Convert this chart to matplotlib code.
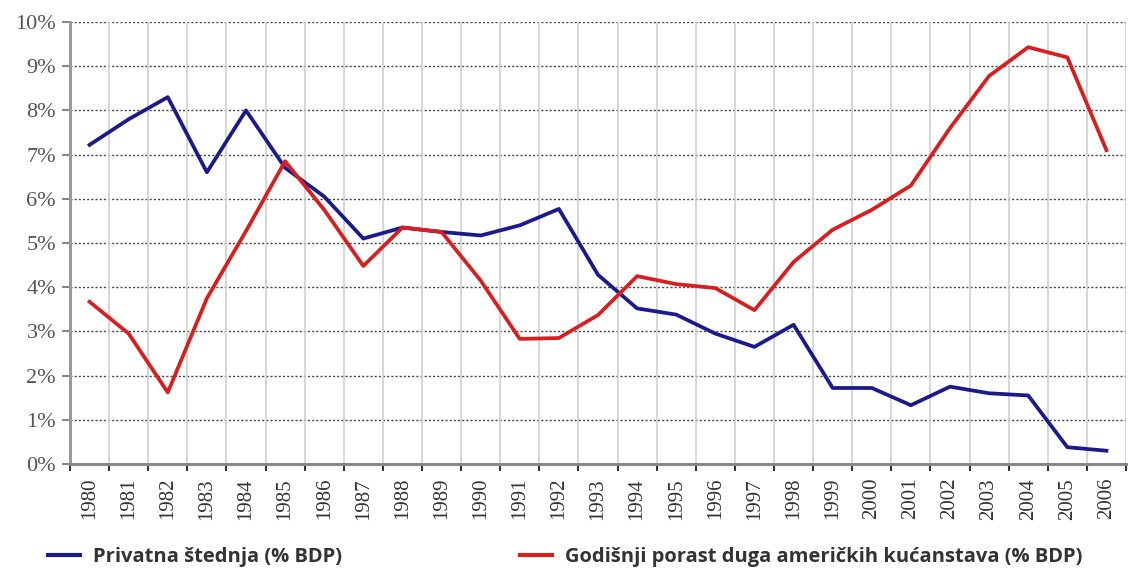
import matplotlib
matplotlib.use("Agg")
import matplotlib.pyplot as plt
import numpy as np
from matplotlib.ticker import FixedLocator, FuncFormatter

years = list(range(1980, 2007))
privatna_stednja = [7.22, 7.8, 8.3, 6.6, 8.0, 6.7, 6.05, 5.1, 5.35, 5.25, 5.17, 5.4, 5.77,
                    4.28, 3.52, 3.38, 2.95, 2.65, 3.15, 1.72, 1.72, 1.33, 1.75, 1.6, 1.55,
                    0.38, 0.3]
porast_duga = [3.67, 2.95, 1.62, 3.75, 5.27, 6.85, 5.75, 4.48, 5.35, 5.25, 4.15, 2.83, 2.85,
               3.37, 4.25, 4.07, 3.98, 3.48, 4.57, 5.3, 5.75, 6.3, 7.6, 8.78, 9.43, 9.2, 7.1]
y_ticks = list(range(0, 11))
label_blue = "Privatna štednja (% BDP)"
label_red = "Godišnji porast duga američkih kućanstava (% BDP)"

fig = plt.figure(figsize=(11.31, 5.68), dpi=100)
ax = fig.add_axes([70/1131, 104/568, (1126-70)/1131, (464-22)/568])

x = np.arange(len(years))
ax.set_xlim(-0.5, len(years) - 0.5)
ax.set_ylim(0, 10)

# grid
for yv in y_ticks[1:]:
    ax.axhline(yv, color="#444444", lw=1.0, ls=(0, (1.5, 1.5)), zorder=1)
ax.xaxis.set_minor_locator(FixedLocator(np.arange(-0.5, len(years), 1.0)))
ax.grid(which="minor", axis="x", color="#cfcfcf", lw=1.2, zorder=0)

ax.plot(x, privatna_stednja, color="#1a1a8c", lw=2.7, zorder=3, solid_joinstyle="round")
ax.plot(x, porast_duga, color="#d81e1e", lw=2.7, zorder=3, solid_joinstyle="round")

ax.set_xticks(x)
ax.set_xticklabels([str(y) for y in years], rotation=90, family="Liberation Serif",
                   fontsize=15, color="#333333")
ax.tick_params(axis="x", which="major", length=0, pad=10)
ax.tick_params(axis="x", which="minor", length=5, width=1.5, color="#333333", direction="out")

ax.set_yticks(y_ticks)
ax.yaxis.set_major_formatter(FuncFormatter(lambda v, p: f"{int(v)}%"))
for t in ax.get_yticklabels():
    t.set_family("Liberation Serif")
    t.set_fontsize(16)
    t.set_color("#555555")
ax.tick_params(axis="y", length=6, width=1.5, color="#888888", pad=4)

for s in ["top", "right"]:
    ax.spines[s].set_visible(False)
ax.spines["left"].set_color("#999999")
ax.spines["left"].set_linewidth(2.2)
ax.spines["bottom"].set_color("#888888")
ax.spines["bottom"].set_linewidth(2.2)

from matplotlib.lines import Line2D
h1 = Line2D([], [], color="#1a1a8c", lw=3)
h2 = Line2D([], [], color="#d81e1e", lw=3)
kw = dict(frameon=False, handlelength=1.6, handletextpad=0.65, borderpad=0, borderaxespad=0,
          prop={"family": "Open Sans", "weight": "bold", "size": 14.5})
l1 = fig.legend([h1], [label_blue], loc="center left", bbox_to_anchor=(48/1131, 1-557/568), **kw)
l2 = fig.legend([h2], [label_red], loc="center left", bbox_to_anchor=(520/1131, 1-557/568), **kw)
for l in (l1, l2):
    for t in l.get_texts():
        t.set_color("#333333")

fig.savefig("out.png", dpi=100)
